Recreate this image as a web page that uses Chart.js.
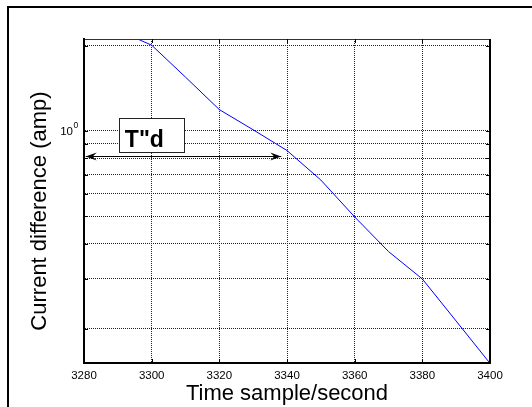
<!DOCTYPE html>
<html>
<head>
<meta charset="utf-8">
<script src="https://cdn.jsdelivr.net/npm/chart.js@4"></script>
<style>
  html, body { margin: 0; padding: 0; background: #fff; }
  canvas { display: block; }
</style>
</head>
<body>
<canvas id="myChart" width="532" height="407"></canvas>
<script>
// values
const times = [3290, 3300, 3310, 3320, 3330, 3340, 3350, 3360, 3370, 3380, 3390, 3400];
const current = [2.27, 2.01, 1.55, 1.19, 1.01, 0.853, 0.671, 0.497, 0.375, 0.300, 0.213, 0.151];
const xTicks = [3280, 3300, 3320, 3340, 3360, 3380, 3400];
const yGrid = [0.2, 0.3, 0.4, 0.5, 0.6, 0.7, 0.8, 0.9, 1, 2];
const xTitle = "Time sample/second";
const yTitle = "Current difference (amp)";
const boxText = 'T"d';
const boxX = [3290.3, 3309.6];
const boxY = [0.843, 1.111];
const arrowX = [3280.5, 3338.3];
const arrowY = 0.816;

const points = times.map(function (t, i) { return { x: t, y: current[i] }; });

const extras = {
    id: "extras",
    beforeDraw: function (chart) {
        const ctx = chart.ctx;
        ctx.save();
        ctx.fillStyle = "#fff";
        ctx.fillRect(0, 0, chart.width, chart.height);
        // outer frame
        ctx.strokeStyle = "#000";
        ctx.lineWidth = 2;
        ctx.beginPath();
        ctx.moveTo(8, chart.height + 5);
        ctx.lineTo(8, 7);
        ctx.lineTo(chart.width + 5, 7);
        ctx.stroke();
        ctx.restore();
    },
    afterDraw: function (chart) {
        const ctx = chart.ctx;
        const xs = chart.scales.x;
        const ys = chart.scales.y;
        const a = chart.chartArea;
        ctx.save();

        // axes box
        ctx.strokeStyle = "#333";
        ctx.lineWidth = 1;
        ctx.beginPath();
        ctx.moveTo(a.left, a.top + 0.5);
        ctx.lineTo(a.right, a.top + 0.5);
        ctx.stroke();
        ctx.strokeStyle = "#000";
        ctx.lineWidth = 2;
        ctx.beginPath();
        ctx.moveTo(a.right, a.top);
        ctx.lineTo(a.right, a.bottom);
        ctx.stroke();
        ctx.beginPath();
        ctx.moveTo(a.left - 1, a.bottom);
        ctx.lineTo(a.right + 1, a.bottom);
        ctx.stroke();

        // inward tick marks
        ctx.lineWidth = 1;
        ctx.strokeStyle = "#000";
        xTicks.forEach(function (v) {
            const px = Math.round(xs.getPixelForValue(v)) + 0.5;
            ctx.beginPath();
            ctx.moveTo(px, a.bottom); ctx.lineTo(px, a.bottom - 4);
            ctx.moveTo(px, a.top); ctx.lineTo(px, a.top + 4);
            ctx.stroke();
        });
        yGrid.forEach(function (v) {
            const py = Math.round(ys.getPixelForValue(v)) + 0.5;
            ctx.beginPath();
            ctx.moveTo(a.left, py); ctx.lineTo(a.left + 4, py);
            ctx.moveTo(a.right, py); ctx.lineTo(a.right - 4, py);
            ctx.stroke();
        });

        // 10^0 label
        const y1 = ys.getPixelForValue(1);
        ctx.fillStyle = "#000";
        ctx.textBaseline = "alphabetic";
        ctx.textAlign = "right";
        ctx.font = "11.5px 'Liberation Sans', Arial, sans-serif";
        ctx.fillText("10", 73, y1 + 4);
        ctx.textAlign = "left";
        ctx.font = "8.5px 'Liberation Sans', Arial, sans-serif";
        ctx.fillText("0", 73.5, y1 - 3);

        // axis titles
        ctx.font = "22px 'Liberation Sans', Arial, sans-serif";
        ctx.textAlign = "center";
        ctx.textBaseline = "middle";
        ctx.fillText(xTitle, (a.left + a.right) / 2, 394);
        ctx.save();
        ctx.translate(40, 211);
        ctx.rotate(-Math.PI / 2);
        ctx.fillText(yTitle, 0, 0);
        ctx.restore();

        // T"d box
        const bx0 = xs.getPixelForValue(boxX[0]);
        const bx1 = xs.getPixelForValue(boxX[1]);
        const by0 = ys.getPixelForValue(boxY[1]);
        const by1 = ys.getPixelForValue(boxY[0]);
        ctx.fillStyle = "#fff";
        ctx.fillRect(bx0, by0, bx1 - bx0, by1 - by0);
        ctx.strokeStyle = "#222";
        ctx.lineWidth = 1;
        ctx.strokeRect(Math.round(bx0) + 0.5, Math.round(by0) + 0.5, Math.round(bx1 - bx0), Math.round(by1 - by0));
        ctx.fillStyle = "#000";
        ctx.font = "bold 23px 'Liberation Sans', Arial, sans-serif";
        ctx.textAlign = "left";
        ctx.textBaseline = "alphabetic";
        ctx.fillText(boxText, bx0 + 6, by1 - 5);

        // double arrow
        const ax0 = xs.getPixelForValue(arrowX[0]);
        const ax1 = xs.getPixelForValue(arrowX[1]);
        const ay = Math.round(ys.getPixelForValue(arrowY)) + 0.5;
        ctx.strokeStyle = "#000";
        ctx.lineWidth = 1;
        ctx.beginPath();
        ctx.moveTo(ax0, ay);
        ctx.lineTo(ax1, ay);
        ctx.stroke();
        function head(tip, dir) {
            ctx.beginPath();
            ctx.moveTo(tip, ay);
            ctx.lineTo(tip - dir * 11, ay - 4);
            ctx.lineTo(tip - dir * 7, ay);
            ctx.lineTo(tip - dir * 11, ay + 4);
            ctx.closePath();
            ctx.fill();
        }
        head(ax0, -1);
        head(ax1, 1);

        ctx.restore();
    }
};

new Chart("myChart", {
    type: "line",
    data: {
        datasets: [{
            data: points,
            borderColor: "#0000ff",
            borderWidth: 1,
            pointRadius: 0,
            fill: false,
            tension: 0
        }]
    },
    options: {
        responsive: false,
        animation: false,
        devicePixelRatio: 1,
        layout: { padding: { left: 0, top: 39, right: 42, bottom: 0 } },
        plugins: { legend: { display: false }, tooltip: { enabled: false } },
        scales: {
            x: {
                type: "linear",
                min: 3280,
                max: 3400,
                afterBuildTicks: function (scale) {
                    scale.ticks = xTicks.map(function (v) { return { value: v }; });
                },
                afterFit: function (scale) { scale.height = 44; },
                ticks: {
                    color: "#000",
                    padding: 6,
                    maxRotation: 0,
                    font: { family: "'Liberation Sans', Arial, sans-serif", size: 11.5 },
                    callback: function (v) { return String(v); }
                },
                grid: {
                    color: function (c) {
                        return (c.tick && (c.tick.value === 3280 || c.tick.value === 3400)) ? "rgba(0,0,0,0)" : "#222";
                    },
                    lineWidth: 1,
                    drawTicks: false
                },
                border: { display: false, dash: [1, 1] }
            },
            y: {
                type: "logarithmic",
                min: 0.1514,
                max: 2.114,
                afterBuildTicks: function (scale) {
                    scale.ticks = yGrid.map(function (v) { return { value: v }; });
                },
                afterFit: function (scale) { scale.width = 84; },
                ticks: { display: false },
                grid: {
                    color: "#222",
                    lineWidth: 1,
                    drawTicks: false
                },
                border: { display: true, color: "#000", width: 2, dash: [1, 1] }
            }
        }
    },
    plugins: [extras]
});
</script>
</body>
</html>
